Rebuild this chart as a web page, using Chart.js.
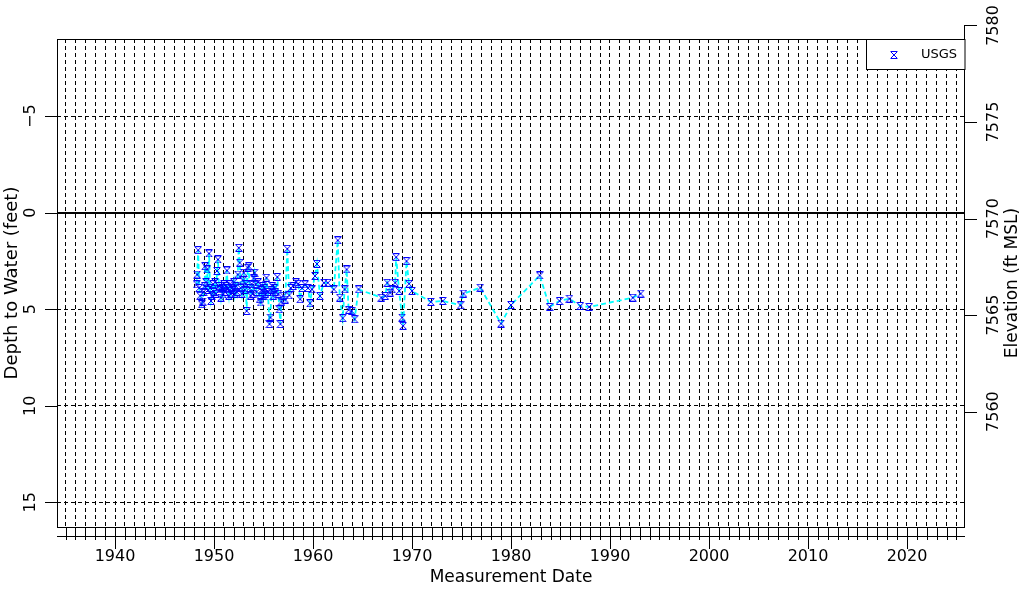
<!doctype html>
<html>
<head>
	<title>Depth to Water</title>
	<script src="https://cdn.jsdelivr.net/npm/chart.js@4.4.1/dist/chart.umd.min.js"></script>
	<style type="text/css">
		body { margin: 0; background: #fff; }
		canvas { display: block; }
	</style>
</head>
<body>
	<canvas id="canvas" width="1024" height="600"></canvas>
	<script>
		// measurement dates (decimal years) and depth to water (feet)
		var dates = [
			1948.25, 1948.3, 1948.4, 1948.5, 1948.6, 1948.75, 1948.85, 1948.95, 1949.05, 1949.1,
			1949.2, 1949.3, 1949.4, 1949.5, 1949.6, 1949.7, 1949.8, 1949.9, 1950.0, 1950.1,
			1950.2, 1950.3, 1950.4, 1950.5, 1950.6, 1950.7, 1950.8, 1950.9, 1951.0, 1951.1,
			1951.2, 1951.3, 1951.4, 1951.5, 1951.6, 1951.7, 1951.8, 1951.9, 1952.0, 1952.1,
			1952.2, 1952.3, 1952.4, 1952.5, 1952.6, 1952.7, 1952.8, 1952.9, 1953.0, 1953.1,
			1953.2, 1953.3, 1953.4, 1953.5, 1953.6, 1953.7, 1953.8, 1953.9, 1954.0, 1954.1,
			1954.2, 1954.3, 1954.45, 1954.6, 1954.7, 1954.8, 1954.9, 1955.0, 1955.1, 1955.2,
			1955.3, 1955.45, 1955.6, 1955.7, 1955.8, 1955.9, 1956.0, 1956.1, 1956.2, 1956.4,
			1956.5, 1956.6, 1956.7, 1956.8, 1957.0, 1957.2, 1957.4, 1957.6, 1957.75, 1958.0,
			1958.3, 1958.5, 1958.7, 1958.9, 1959.2, 1959.5, 1959.7, 1959.9, 1960.2, 1960.4,
			1960.7, 1961.1, 1961.5, 1962.1, 1962.5, 1962.7, 1963.0, 1963.2, 1963.4, 1963.6,
			1963.9, 1964.2, 1964.6, 1966.9, 1967.3, 1967.5, 1967.8, 1968.0, 1968.3, 1968.4,
			1968.7, 1969.0, 1969.1, 1969.45, 1969.7, 1970.0, 1971.9, 1973.1, 1974.9, 1975.2,
			1976.9, 1979.0, 1980.0, 1982.9, 1983.9, 1984.9, 1985.9, 1987.0, 1987.9, 1992.3,
			1993.1
		];
		var depths = [
			3.71, 3.2, 1.94, 3.9, 4.3, 4.74, 4.6, 4.1, 3.8, 2.77,
			3.6, 2.94, 4.0, 2.11, 3.9, 4.57, 4.3, 3.7, 4.1, 3.6,
			4.2, 3.02, 2.42, 3.8, 3.97, 4.4, 3.9, 4.23, 3.7, 4.1,
			3.8, 2.99, 3.9, 4.3, 3.7, 4.2, 3.9, 4.0, 3.6, 4.2,
			3.8, 4.1, 3.2, 1.82, 2.59, 3.9, 4.2, 3.5, 3.11, 4.0,
			3.7, 5.09, 2.85, 2.77, 3.9, 4.3, 3.7, 4.2, 3.4, 3.11,
			3.7, 4.1, 3.6, 4.48, 4.65, 4.0, 3.8, 4.3, 3.9, 4.2,
			3.37, 4.1, 5.77, 5.43, 4.0, 3.8, 4.3, 3.9, 4.1, 3.33,
			4.2, 5.0, 5.77, 4.6, 4.3, 4.5, 1.87, 4.28, 3.9, 3.8,
			3.6, 3.68, 4.48, 3.9, 3.71, 3.9, 4.69, 3.97, 3.28, 2.65,
			4.31, 3.63, 3.63, 3.97, 1.43, 4.40, 5.46, 3.97, 2.94, 5.03,
			5.09, 5.52, 3.97, 4.40, 4.31, 3.63, 4.14, 3.97, 3.63, 2.30,
			4.05, 5.43, 5.86, 2.51, 3.68, 4.05, 4.62, 4.57, 4.79, 4.19,
			3.88, 5.74, 4.78, 3.25, 4.88, 4.57, 4.45, 4.83, 4.88, 4.40,
			4.19
		];
		var landSurface = 7570.3;   // ft MSL, elevation at depth 0
		var yearLabels = [1940, 1950, 1960, 1970, 1980, 1990, 2000, 2010, 2020];
		var depthTicks = [-5, 0, 5, 10, 15];
		var elevTicks = [7560, 7565, 7570, 7575, 7580];
		var firstYear = 1935, lastYear = 2025;

		var FONT = 'DejaVu Sans';

		// blue "x" marker with bars top and bottom
		function makeMarker() {
			var c = document.createElement('canvas');
			c.width = 8; c.height = 8;
			var g = c.getContext('2d');
			g.strokeStyle = '#0000ff';
			g.lineWidth = 1;
			g.beginPath();
			g.moveTo(0.5, 0.5); g.lineTo(7.5, 0.5);
			g.moveTo(0.5, 7.5); g.lineTo(7.5, 7.5);
			g.moveTo(1, 1); g.lineTo(7, 7);
			g.moveTo(7, 1); g.lineTo(1, 7);
			g.stroke();
			return c;
		}
		var marker = makeMarker();

		function vtext(ctx, text, x, y) {
			ctx.save();
			ctx.translate(x, y);
			ctx.rotate(-Math.PI / 2);
			ctx.textAlign = 'center';
			ctx.textBaseline = 'middle';
			ctx.fillText(text, 0, 0);
			ctx.restore();
		}

		var decorations = {
			id: 'decorations',
			afterDraw: function(chart) {
				var ctx = chart.ctx;
				var a = chart.chartArea;
				var xs = chart.scales.x, ys = chart.scales.y, es = chart.scales.y2;
				ctx.save();
				ctx.strokeStyle = '#000';
				ctx.fillStyle = '#000';
				ctx.lineWidth = 1;

				// zero line
				var y0 = Math.round(ys.getPixelForValue(0));
				ctx.lineWidth = 2;
				ctx.beginPath();
				ctx.moveTo(a.left, y0); ctx.lineTo(a.right, y0);
				ctx.stroke();
				ctx.lineWidth = 1;

				// plot box
				ctx.strokeRect(a.left + 0.5, a.top + 0.5, a.right - a.left - 1, a.bottom - a.top);

				// x axis line and ticks
				ctx.beginPath();
				ctx.moveTo(a.left, a.bottom + 9.5); ctx.lineTo(a.right, a.bottom + 9.5);
				for (var yr = firstYear; yr <= lastYear; yr++) {
					var px = Math.round(xs.getPixelForValue(yr)) + 0.5;
					var len = (yr % 10 === 0) ? 22 : 13;
					ctx.moveTo(px, a.bottom); ctx.lineTo(px, a.bottom + len);
				}
				ctx.stroke();

				ctx.font = '16px "' + FONT + '"';
				// left axis ticks and labels
				ctx.beginPath();
				depthTicks.forEach(function(v) {
					var py = Math.round(ys.getPixelForValue(v)) + 0.5;
					ctx.moveTo(a.left - 12, py); ctx.lineTo(a.left, py);
				});
				ctx.stroke();
				depthTicks.forEach(function(v) {
					var py = ys.getPixelForValue(v);
					vtext(ctx, v < 0 ? '\u2212' + Math.abs(v) : String(v), 31, py);
				});

				// right axis line, ticks and labels
				var eTop = Math.round(es.getPixelForValue(elevTicks[elevTicks.length - 1]));
				var eBot = Math.round(es.getPixelForValue(elevTicks[0]));
				ctx.beginPath();
				ctx.moveTo(a.right - 0.5, eTop); ctx.lineTo(a.right - 0.5, eBot + 1);
				elevTicks.forEach(function(v) {
					var py = Math.round(es.getPixelForValue(v)) + 0.5;
					ctx.moveTo(a.right, py); ctx.lineTo(a.right + 12, py);
				});
				ctx.stroke();
				elevTicks.forEach(function(v) {
					vtext(ctx, String(v), 994, es.getPixelForValue(v));
				});

				// axis titles
				ctx.font = '17px "' + FONT + '"';
				ctx.textAlign = 'center';
				ctx.textBaseline = 'middle';
				ctx.fillText('Measurement Date', (a.left + a.right) / 2, 578);
				vtext(ctx, 'Elevation (ft MSL)', 1013, (a.top + a.bottom) / 2);
				ctx.font = '18px "' + FONT + '"';
				vtext(ctx, 'Depth to Water (feet)', 12, (a.top + a.bottom) / 2);

				// legend
				ctx.fillStyle = '#fff';
				ctx.fillRect(866, a.top, a.right - 866, 31);
				ctx.strokeRect(866.5, a.top + 0.5, a.right - 866.5, 30);
				ctx.drawImage(marker, 890, 51);
				ctx.fillStyle = '#000';
				ctx.font = '13px "' + FONT + '"';
				ctx.textAlign = 'left';
				ctx.fillText('USGS', 921, 55);
				ctx.restore();
			}
		};

		var points = dates.map(function(d, i) { return {x: d, y: depths[i]}; });

		window.onload = function() {
			var ctx = document.getElementById('canvas').getContext('2d');
			window.myChart = new Chart(ctx, {
				type: 'line',
				data: {
					datasets: [{
						label: 'USGS',
						data: points,
						borderColor: '#00ffff',
						borderWidth: 1.8,
						borderDash: [5, 3],
						pointStyle: marker,
						pointRadius: 4,
						tension: 0,
						fill: false,
						yAxisID: 'y'
					}]
				},
				options: {
					responsive: false,
					animation: false,
					events: [],
					layout: { padding: { top: 39, left: 0, right: 0, bottom: 0 } },
					plugins: {
						legend: { display: false },
						tooltip: { enabled: false }
					},
					scales: {
						x: {
							type: 'linear',
							min: 1934.14,
							max: 2025.86,
							afterBuildTicks: function(s) {
								var t = [];
								for (var yr = firstYear; yr <= lastYear; yr++) t.push({value: yr});
								s.ticks = t;
							},
							afterFit: function(s) { s.height = 73; },
							grid: { color: '#000', lineWidth: 1, drawTicks: false },
							border: { display: false, dash: [4, 3] },
							ticks: {
								autoSkip: false,
								maxRotation: 0,
								minRotation: 0,
								padding: 20,
								color: '#000',
								font: { family: FONT, size: 16 },
								callback: function(v) {
									return yearLabels.indexOf(v) >= 0 ? String(v) : '';
								}
							}
						},
						y: {
							type: 'linear',
							position: 'left',
							reverse: true,
							min: -9,
							max: 16.28,
							afterBuildTicks: function(s) {
								s.ticks = depthTicks.map(function(v) { return {value: v}; });
							},
							afterFit: function(s) { s.width = 57; },
							grid: {
								color: function(c) { return c.tick && c.tick.value === 0 ? 'rgba(0,0,0,0)' : '#000'; },
								lineWidth: 1,
								drawTicks: false
							},
							border: { display: false, dash: [4, 3] },
							ticks: { display: false }
						},
						y2: {
							type: 'linear',
							position: 'right',
							min: landSurface - 16.28,
							max: landSurface + 9,
							afterFit: function(s) { s.width = 59; },
							grid: { display: false },
							border: { display: false },
							ticks: { display: false }
						}
					}
				},
				plugins: [decorations]
			});
		};
	</script>
</body>
</html>
